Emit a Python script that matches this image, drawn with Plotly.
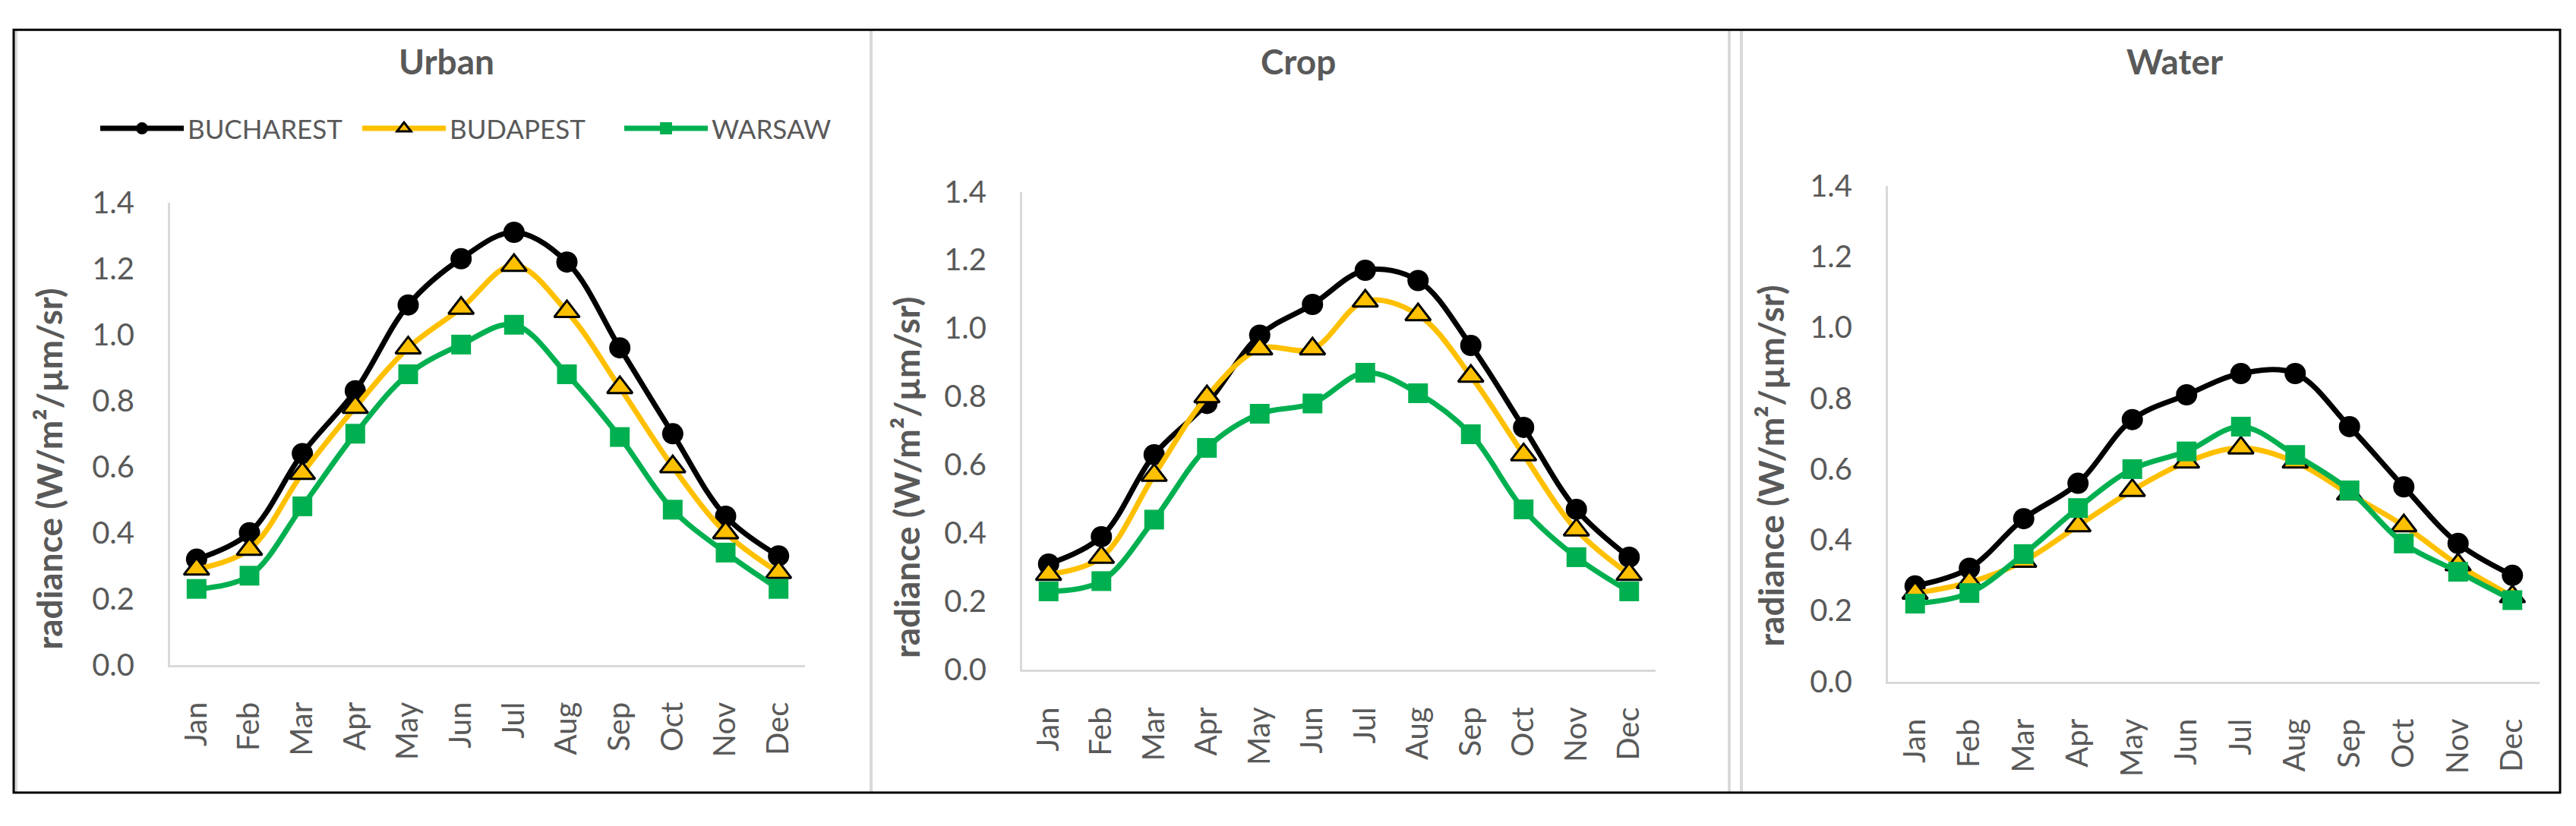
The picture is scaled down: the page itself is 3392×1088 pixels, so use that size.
import plotly.graph_objects as go

months = ["Jan", "Feb", "Mar", "Apr", "May", "Jun", "Jul", "Aug", "Sep", "Oct", "Nov", "Dec"]
cities = ["BUCHAREST", "BUDAPEST", "WARSAW"]
panel_titles = ["Urban", "Crop", "Water"]
y_ticks = [0.0, 0.2, 0.4, 0.6, 0.8, 1.0, 1.2, 1.4]
y_title = "radiance (W/m²/µm/sr)"

urban_bucharest = [0.32, 0.40, 0.64, 0.83, 1.09, 1.23, 1.31, 1.22, 0.96, 0.70, 0.45, 0.33]
urban_budapest = [0.29, 0.35, 0.58, 0.78, 0.96, 1.08, 1.21, 1.07, 0.84, 0.60, 0.40, 0.28]
urban_warsaw = [0.23, 0.27, 0.48, 0.70, 0.88, 0.97, 1.03, 0.88, 0.69, 0.47, 0.34, 0.23]

crop_bucharest = [0.31, 0.39, 0.63, 0.78, 0.98, 1.07, 1.17, 1.14, 0.95, 0.71, 0.47, 0.33]
crop_budapest = [0.28, 0.33, 0.57, 0.80, 0.94, 0.94, 1.08, 1.04, 0.86, 0.63, 0.41, 0.28]
crop_warsaw = [0.23, 0.26, 0.44, 0.65, 0.75, 0.78, 0.87, 0.81, 0.69, 0.47, 0.33, 0.23]

water_bucharest = [0.27, 0.32, 0.46, 0.56, 0.74, 0.81, 0.87, 0.87, 0.72, 0.55, 0.39, 0.30]
water_budapest = [0.25, 0.28, 0.34, 0.44, 0.54, 0.62, 0.66, 0.62, 0.53, 0.44, 0.33, 0.24]
water_warsaw = [0.22, 0.25, 0.36, 0.49, 0.60, 0.65, 0.72, 0.64, 0.54, 0.39, 0.31, 0.23]

panel_data = [
    [urban_bucharest, urban_budapest, urban_warsaw],
    [crop_bucharest, crop_budapest, crop_warsaw],
    [water_bucharest, water_budapest, water_warsaw],
]

W, H = 3392, 1088
TXT = "#595959"
AX = "#D9D9D9"
FONT = "Lato"

city_styles = [
    dict(line=dict(color="#000000", width=7), marker=dict(symbol="circle", size=28, color="#000000")),
    dict(line=dict(color="#FFC000", width=7), marker=dict(symbol="triangle-up", size=29, color="#FFC000",
                                                          line=dict(color="#000000", width=3))),
    dict(line=dict(color="#00B050", width=7), marker=dict(symbol="square", size=26, color="#00B050")),
]

# layout geometry (pixels, measured from the top-left of the image)
x_dom_px = [(224, 1060), (1346, 2180), (2486, 3344)]
y_dom_px = [(890, 253), (897, 238), (913, 230)]  # (value 0.0, value 1.4)
title_x_px = [588, 1710, 2863]
ytitle_pos_px = [(65, 620), (1193, 632), (2332, 616)]

fig = go.Figure()

for p in range(3):
    xa = "x" if p == 0 else f"x{p+1}"
    ya = "y" if p == 0 else f"y{p+1}"
    for c in range(3):
        fig.add_trace(go.Scatter(
            x=months, y=panel_data[p][c], name=cities[c],
            mode="lines+markers", line_shape="spline",
            line=dict(city_styles[c]["line"], smoothing=1.0),
            marker=city_styles[c]["marker"],
            xaxis=xa, yaxis=ya, showlegend=(p == 0), cliponaxis=False,
        ))

layout = dict(
    width=W, height=H, autosize=False,
    margin=dict(l=0, r=0, t=0, b=0),
    paper_bgcolor="white", plot_bgcolor="white",
    showlegend=True,
    legend=dict(orientation="h", x=127 / W, y=1 - 151 / H, xanchor="left", yanchor="middle",
                font=dict(family=FONT, size=35, color=TXT),
                itemwidth=110, entrywidth=220, entrywidthmode="pixels",
                bgcolor="rgba(0,0,0,0)"),
)

for p in range(3):
    sx = "" if p == 0 else str(p + 1)
    x0, x1 = x_dom_px[p]
    yb, yt = y_dom_px[p]
    layout["xaxis" + sx] = dict(
        domain=[x0 / W, x1 / W], anchor="y" + sx, type="category",
        range=[-0.5, 11.5], showline=True, linecolor=AX, linewidth=3,
        showgrid=False, zeroline=False, ticks="", tickangle=-90,
        tickfont=dict(family=FONT, size=40, color=TXT), ticklabelstandoff=30,
        categoryorder="array", categoryarray=months,
    )
    layout["yaxis" + sx] = dict(
        domain=[1 - yb / H, 1 - yt / H], anchor="x" + sx,
        range=[0, 1.4], tickvals=y_ticks, tickformat=".1f",
        showline=True, linecolor=AX, linewidth=3,
        showgrid=False, zeroline=False, ticks="",
        tickfont=dict(family=FONT, size=40, color=TXT), ticklabelstandoff=36,
    )

annotations = []
for p in range(3):
    annotations.append(dict(
        text="<b>" + panel_titles[p] + "</b>", xref="paper", yref="paper",
        x=title_x_px[p] / W, y=1 - 58 / H, xanchor="center", yanchor="middle",
        showarrow=False, font=dict(family=FONT, size=46, color=TXT),
    ))
    tx, ty = ytitle_pos_px[p]
    annotations.append(dict(
        text="<b>" + y_title + "</b>", xref="paper", yref="paper",
        x=tx / W, y=1 - ty / H, xanchor="center", yanchor="middle", textangle=-90,
        showarrow=False, font=dict(family=FONT, size=46, color=TXT),
    ))
layout["annotations"] = annotations

shapes = []
for sx_px in [21, 1147, 2277, 2293]:
    shapes.append(dict(type="line", xref="paper", yref="paper",
                       x0=sx_px / W, x1=sx_px / W, y0=1 - 1066 / H, y1=1 - 15 / H,
                       line=dict(color=AX, width=4)))
shapes.append(dict(type="rect", xref="paper", yref="paper",
                   x0=18 / W, x1=3371 / W, y0=1 - 1066 / H, y1=1 - 15 / H,
                   line=dict(color="#000000", width=3), fillcolor="rgba(0,0,0,0)"))
layout["shapes"] = shapes

fig.update_layout(**layout)

fig.write_html("out.html", config={"displayModeBar": False},
               post_script="document.body.style.margin='0';document.body.style.overflow='hidden';")
